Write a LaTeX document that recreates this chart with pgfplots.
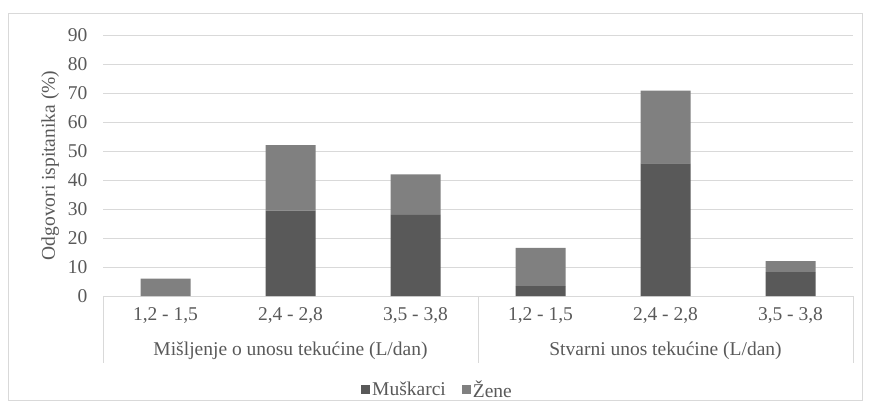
\documentclass[border=0pt]{standalone}
\usepackage{fontspec}
\setmainfont{Liberation Serif}
\usepackage{pgfplots}
\pgfplotsset{compat=1.18}
\definecolor{men}{HTML}{595959}
\definecolor{women}{HTML}{808080}
\definecolor{txt}{HTML}{595959}
\definecolor{gridc}{HTML}{D9D9D9}
\newcommand{\fs}{\fontsize{19.5}{21}\selectfont}
\begin{document}
\begin{tikzpicture}[x=1pt,y=1pt]
\useasboundingbox (0,0) rectangle (871,413);
\draw[gridc] (8,13) rectangle (862,400);
\begin{axis}[
  at={(103pt,117pt)}, anchor=south west,
  scale only axis, width=750pt, height=261pt,
  ybar stacked, bar width=0.4,
  xmin=-0.5, xmax=5.5, ymin=0, ymax=90,
  ytick={0,10,...,90},
  xtick={0,1,2,3,4,5},
  xticklabels={{1,2 - 1,5},{2,4 - 2,8},{3,5 - 3,8},{1,2 - 1,5},{2,4 - 2,8},{3,5 - 3,8}},
  axis x line*=bottom, axis y line*=left,
  x axis line style={draw=gridc, line width=0.8pt, -},
  y axis line style={draw=none},
  major tick length=0pt,
  ymajorgrids, xmajorgrids=false,
  major grid style={draw=gridc, line width=0.8pt},
  /pgf/number format/assume math mode=true,
  tick label style={font=\fs, text=txt},
  xticklabel style={yshift=-8pt},
  yticklabel style={xshift=-12pt},
  ylabel={Odgovori ispitanika (\%)},
  ylabel style={font=\fs, text=txt, yshift=2pt},
  legend style={at={(axis description cs:0.446,-0.36)}, anchor=center, draw=none, fill=none,
    font=\fs, text=txt, legend columns=2,
    /tikz/every even column/.append style={column sep=14pt}},
  legend image code/.code={\fill[#1] (0pt,-4.5pt) rectangle (9pt,4.5pt);},
  legend cell align=left,
  clip=false,
]
\addplot[fill=men, draw=none] coordinates {(0,0) (1,29.4) (2,28) (3,3.4) (4,45.7) (5,8.2)};
\addplot[fill=women, draw=none] coordinates {(0,6) (1,22.6) (2,13.9) (3,13.2) (4,25.1) (5,3.8)};
\legend{Muškarci, Žene}
\draw[gridc, line width=0.8pt] (axis cs:-0.5,0) -- ([yshift=-67pt]axis cs:-0.5,0);
\draw[gridc, line width=0.8pt] (axis cs:2.5,0) -- ([yshift=-67pt]axis cs:2.5,0);
\draw[gridc, line width=0.8pt] (axis cs:5.5,0) -- ([yshift=-67pt]axis cs:5.5,0);
\node[font=\fs, text=txt] at ([yshift=-55pt]axis cs:1,0) {Mišljenje o unosu tekućine (L/dan)};
\node[font=\fs, text=txt] at ([yshift=-55pt]axis cs:4,0) {Stvarni unos tekućine (L/dan)};
\end{axis}
\end{tikzpicture}
\end{document}
